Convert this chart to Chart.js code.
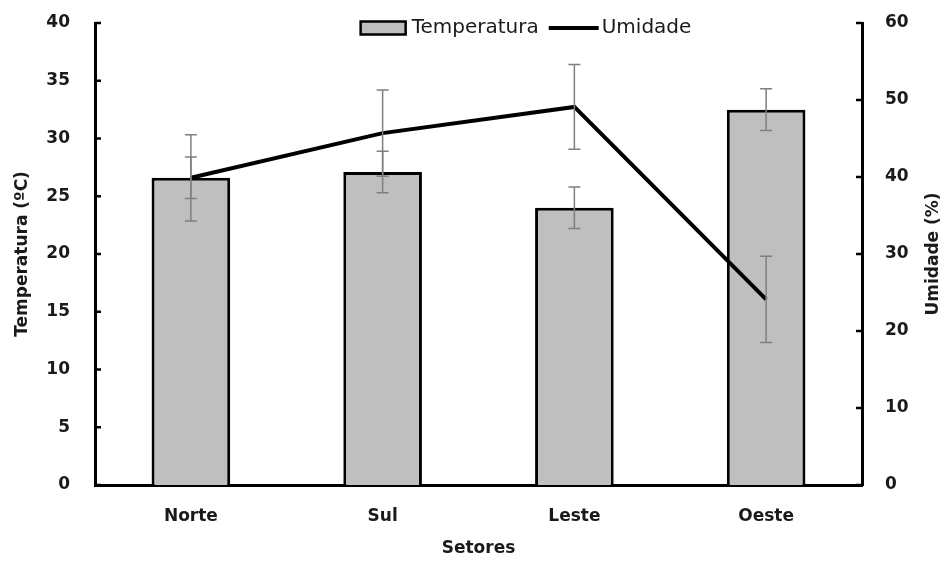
<!DOCTYPE html>
<html lang="pt">
<head>
    <meta charset="UTF-8">
    <title>Temperatura e Umidade por Setor</title>
    <script src="https://cdn.jsdelivr.net/npm/chart.js"></script>
    <style>
        body { margin: 0; background: #fff; }
        #chart-container { width: 947px; height: 561px; }
    </style>
</head>
<body>
    <div id="chart-container">
        <canvas id="setoresChart"></canvas>
    </div>

    <script>
        // dados
        const setores = ['Norte', 'Sul', 'Leste', 'Oeste'];
        const temperatura = [26.6, 27.1, 24.0, 32.5];
        const temperaturaErro = [1.8, 1.8, 1.8, 1.8];
        const umidade = [39.9, 45.7, 49.1, 24.1];
        const umidadeErro = [5.6, 5.6, 5.5, 5.6];
        const ticksTemperatura = [0, 5, 10, 15, 20, 25, 30, 35, 40];
        const ticksUmidade = [0, 10, 20, 30, 40, 50, 60];

        const FONT = '"DejaVu Sans", "Liberation Sans", sans-serif';

        // barras de erro (cinza) para os dois conjuntos
        const errorBars = {
            id: 'errorBars',
            afterDatasetsDraw(chart) {
                const ctx = chart.ctx;
                const sets = [
                    { idx: 0, axis: 'y', err: temperaturaErro, vals: temperatura },
                    { idx: 1, axis: 'y1', err: umidadeErro, vals: umidade }
                ];
                ctx.save();
                ctx.strokeStyle = '#7f7f7f';
                ctx.lineWidth = 1.5;
                sets.forEach(s => {
                    const meta = chart.getDatasetMeta(s.idx);
                    const scale = chart.scales[s.axis];
                    meta.data.forEach((el, i) => {
                        const x = el.x;
                        const yTop = scale.getPixelForValue(s.vals[i] + s.err[i]);
                        const yBot = scale.getPixelForValue(s.vals[i] - s.err[i]);
                        ctx.beginPath();
                        ctx.moveTo(x, yTop); ctx.lineTo(x, yBot);
                        ctx.moveTo(x - 6, yTop); ctx.lineTo(x + 6, yTop);
                        ctx.moveTo(x - 6, yBot); ctx.lineTo(x + 6, yBot);
                        ctx.stroke();
                    });
                });
                ctx.restore();
            }
        };

        // marcas dos eixos para dentro, título direito e legenda
        const extras = {
            id: 'extras',
            afterDraw(chart) {
                const ctx = chart.ctx;
                const area = chart.chartArea;
                ctx.save();
                ctx.strokeStyle = '#000';
                ctx.lineWidth = 2.5;
                const y = chart.scales.y, y1 = chart.scales.y1;
                y.ticks.forEach((t, i) => {
                    const py = y.getPixelForTick(i);
                    ctx.beginPath(); ctx.moveTo(area.left, py); ctx.lineTo(area.left + 6, py); ctx.stroke();
                });
                y1.ticks.forEach((t, i) => {
                    const py = y1.getPixelForTick(i);
                    ctx.beginPath(); ctx.moveTo(area.right - 6, py); ctx.lineTo(area.right, py); ctx.stroke();
                });

                // título do eixo direito (lido de baixo para cima)
                ctx.fillStyle = '#1a1a1a';
                ctx.font = 'bold 17px ' + FONT;
                ctx.textAlign = 'center';
                ctx.textBaseline = 'middle';
                ctx.translate(934, (area.top + area.bottom) / 2);
                ctx.rotate(-Math.PI / 2);
                ctx.fillText('Umidade (%)', 0, 0);
                ctx.restore();

                // legenda
                ctx.save();
                ctx.font = '20px ' + FONT;
                ctx.textBaseline = 'middle';
                ctx.textAlign = 'left';
                const lab0 = chart.data.datasets[0].label;
                const lab1 = chart.data.datasets[1].label;
                const w = 45 + 6 + ctx.measureText(lab0).width + 10 + 50 + 3 + ctx.measureText(lab1).width;
                let x = 526 - w / 2;
                const cy = 28;
                ctx.fillStyle = '#bfbfbf';
                ctx.fillRect(x, cy - 6.5, 45, 13);
                ctx.strokeStyle = '#000';
                ctx.lineWidth = 2.5;
                ctx.strokeRect(x, cy - 6.5, 45, 13);
                x += 51;
                ctx.fillStyle = '#1a1a1a';
                ctx.fillText(lab0, x, cy);
                x += ctx.measureText(lab0).width + 10;
                ctx.lineWidth = 4;
                ctx.beginPath(); ctx.moveTo(x, cy); ctx.lineTo(x + 50, cy); ctx.stroke();
                x += 53;
                ctx.fillText(lab1, x, cy);
                ctx.restore();
            }
        };

        const tickFont = { family: FONT, size: 17, weight: 'bold' };
        const titleFont = { family: FONT, size: 17, weight: 'bold' };

        function fitY(width) {
            return function (scale) {
                scale.width = width;
                scale.paddingTop = 0;
                scale.paddingBottom = 0;
            };
        }

        const ctx = document.getElementById('setoresChart').getContext('2d');
        new Chart(ctx, {
            data: {
                labels: setores,
                datasets: [
                    {
                        type: 'bar',
                        label: 'Temperatura',
                        data: temperatura,
                        yAxisID: 'y',
                        backgroundColor: '#bfbfbf',
                        borderColor: '#000',
                        borderWidth: 3,
                        barPercentage: 0.41,
                        categoryPercentage: 1,
                        order: 1
                    },
                    {
                        type: 'line',
                        label: 'Umidade',
                        data: umidade,
                        yAxisID: 'y1',
                        borderColor: '#000',
                        borderWidth: 4,
                        pointRadius: 0,
                        tension: 0,
                        fill: false,
                        order: 0
                    }
                ]
            },
            options: {
                responsive: true,
                maintainAspectRatio: false,
                animation: false,
                layout: { padding: { top: 23, left: 0, right: 0, bottom: 0 } },
                plugins: {
                    legend: { display: false },
                    tooltip: { enabled: false }
                },
                scales: {
                    x: {
                        grid: { display: false },
                        border: { display: true, color: '#000', width: 3 },
                        ticks: {
                            color: '#1a1a1a',
                            font: tickFont,
                            padding: 13
                        },
                        title: {
                            display: true,
                            text: 'Setores',
                            color: '#1a1a1a',
                            font: titleFont,
                            padding: { top: 0, bottom: 2 }
                        },
                        afterFit(scale) { scale.height = 76; }
                    },
                    y: {
                        position: 'left',
                        min: 0,
                        max: 40,
                        afterBuildTicks(scale) { scale.ticks = ticksTemperatura.map(v => ({ value: v })); },
                        grid: { display: false },
                        border: { display: true, color: '#000', width: 3 },
                        ticks: {
                            color: '#1a1a1a',
                            font: tickFont,
                            padding: 17
                        },
                        title: {
                            display: true,
                            text: 'Temperatura (ºC)',
                            color: '#1a1a1a',
                            font: titleFont,
                            padding: { top: 12, bottom: 0 }
                        },
                        afterFit: fitY(95)
                    },
                    y1: {
                        position: 'right',
                        min: 0,
                        max: 60,
                        afterBuildTicks(scale) { scale.ticks = ticksUmidade.map(v => ({ value: v })); },
                        grid: { display: false },
                        border: { display: true, color: '#000', width: 3 },
                        ticks: {
                            color: '#1a1a1a',
                            font: tickFont,
                            padding: 15
                        },
                        afterFit: fitY(85)
                    }
                }
            },
            plugins: [errorBars, extras]
        });
    </script>
</body>
</html>
